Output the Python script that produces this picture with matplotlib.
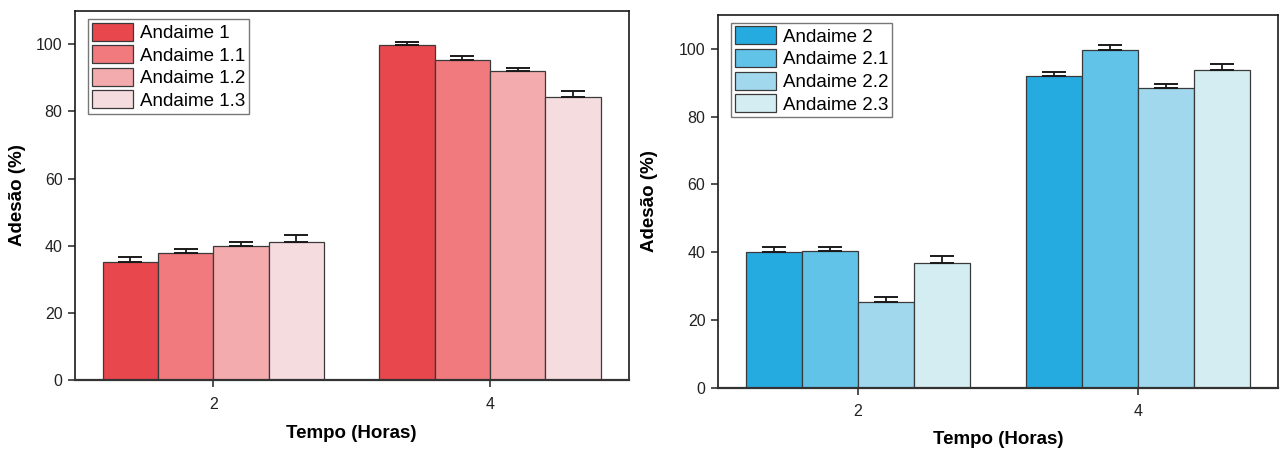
import numpy as np
import matplotlib
matplotlib.use("Agg")
import matplotlib.pyplot as plt

plt.rcParams["font.family"] = ["Liberation Sans", "DejaVu Sans"]

# Time points (hours)
tempos = [2, 4]

# Panel 1: Andaime 1 series
labels_1 = ["Andaime 1", "Andaime 1.1", "Andaime 1.2", "Andaime 1.3"]
valores_1 = [[35.0, 99.8], [37.8, 95.4], [39.8, 92.1], [41.1, 84.2]]
erros_1 = [[1.5, 1.0], [1.2, 1.2], [1.4, 0.8], [2.1, 1.8]]
cores_1 = ["#E8474D", "#F07A7D", "#F4ABAD", "#F5DCDF"]

# Panel 2: Andaime 2 series
labels_2 = ["Andaime 2", "Andaime 2.1", "Andaime 2.2", "Andaime 2.3"]
valores_2 = [[40.1, 92.1], [40.4, 99.8], [25.2, 88.5], [36.9, 93.8]]
erros_2 = [[1.5, 1.0], [1.2, 1.4], [1.5, 1.0], [1.9, 1.7]]
cores_2 = ["#25ABE0", "#62C3E8", "#A1D8EE", "#D4EDF3"]

W, H = 1284, 451
fig = plt.figure(figsize=(W / 100, H / 100), dpi=100)


def painel(box, labels, valores, erros, cores, leg_px, ylab_x, xlab_y):
    l, r, t, b = box
    aw, ah = r - l, b - t
    ax = fig.add_axes([l / W, 1 - b / H, aw / W, ah / H])
    largura = 0.4
    n = len(labels)
    x = np.array(tempos, dtype=float)
    for i in range(n):
        pos = x + (i - (n - 1) / 2) * largura
        ax.bar(pos, valores[i], width=largura, color=cores[i],
               edgecolor="#3a3a3a", linewidth=0.9, label=labels[i], zorder=2)
        ax.errorbar(pos, valores[i],
                    yerr=[np.zeros(len(erros[i])), erros[i]],
                    fmt="none", ecolor="#1a1a1a", elinewidth=1.3,
                    capsize=8.5, capthick=1.4, zorder=3)
    ax.set_xlim(1, 5)
    ax.set_ylim(0, 110)
    ax.set_xticks(tempos)
    ax.set_xticklabels([str(t) for t in tempos])
    ax.set_yticks([0, 20, 40, 60, 80, 100])
    ax.tick_params(axis="both", direction="out", length=5, width=1.1,
                   labelsize=11.5, colors="#222222", pad=4)
    ax.tick_params(axis="x", pad=7)
    ax.tick_params(top=False, right=False)
    for s in ax.spines.values():
        s.set_linewidth(1.2)
        s.set_color("#1a1a1a")
    ax.spines["bottom"].set_linewidth(1.6)
    ax.spines["bottom"].set_color("#333333")
    ax.set_xlabel("Tempo (Horas)", fontsize=13.5, fontweight="bold", va="center")
    ax.set_ylabel("Adesão (%)", fontsize=13.5, fontweight="bold", va="center")
    ax.yaxis.set_label_coords((ylab_x - l) / aw, 0.5)
    ax.xaxis.set_label_coords(0.5, -(xlab_y - b) / ah)
    leg = ax.legend(loc="upper left",
                    bbox_to_anchor=(leg_px[0] / aw, 1 - leg_px[1] / ah),
                    borderaxespad=0, fontsize=13.5, frameon=True, fancybox=False,
                    handlelength=2.2, handleheight=1.1, handletextpad=0.35,
                    labelspacing=0.17, borderpad=0.2)
    leg.get_frame().set_edgecolor("#555555")
    leg.get_frame().set_linewidth(1.0)
    for p in leg.get_patches():
        p.set_edgecolor("#3a3a3a")
    return ax


# Left panel (pixel box: left, right, top, bottom)
painel((75, 628.5, 10.7, 380), labels_1, valores_1, erros_1, cores_1,
       (13, 8.3), 18, 433)

# Right panel
painel((718, 1277.8, 15, 387.7), labels_2, valores_2, erros_2, cores_2,
       (13, 7.7), 650, 440)

fig.savefig("out.png", dpi=100)
